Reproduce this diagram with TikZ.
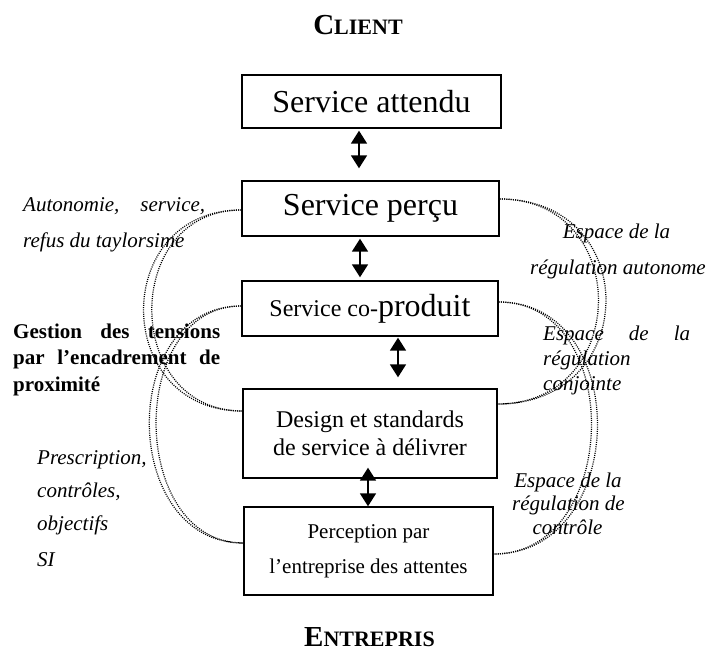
\documentclass[tikz,border=0pt]{standalone}
\usepackage{fontspec}
\setmainfont{Liberation Serif}
\usetikzlibrary{arrows.meta,calc}
\begin{document}
\begin{tikzpicture}[x=1pt,y=-1pt,
  box/.style={draw, line width=1.4pt, inner sep=0pt, align=center},
  dbl/.style={line width=1.7pt, {Triangle[width=16pt,length=13pt]}-{Triangle[width=16pt,length=13pt]}},
  dot/.style={line width=1.25pt, dash pattern=on 1pt off 1.2pt},
  itl/.style={inner sep=0pt, font=\fontsize{21}{21}\selectfont\itshape},
  bld/.style={inner sep=0pt, font=\fontsize{21}{21}\selectfont\bfseries},
  ttl/.style={inner sep=0pt, font=\bfseries},
]
\useasboundingbox (0,0) rectangle (709,652);

% titles
\node[ttl, anchor=base] (client) at (358,35) {\fontsize{29}{29}\selectfont C\fontsize{22}{22}\selectfont LIENT};
\node[ttl, anchor=base] (entr) at (369.5,646) {\fontsize{29}{29}\selectfont E\fontsize{22}{22}\selectfont NTREPRIS};

% boxes
\node[box, minimum width=259, minimum height=53, font=\fontsize{32}{32}\selectfont] (attendu) at (371.5,101.5) {Service attendu};
\node[box, minimum width=257, minimum height=55, font=\fontsize{32}{32}\selectfont] (percu) at (370.5,208.5) {Service perçu};
\node[box, minimum width=256, minimum height=55] (coprod) at (370,308.5) {\fontsize{24}{24}\selectfont Service co-\fontsize{32}{32}\selectfont produit};
\node[box, minimum width=254, minimum height=89, font=\fontsize{24}{28}\selectfont] (design) at (370,433.5) {Design et standards\\de service à délivrer};
\node[box, minimum width=249, minimum height=88, font=\fontsize{21}{35}\selectfont] (percep) at (368.5,551) {Perception par\\l’entreprise des attentes};

% arrows
\draw[dbl, shorten <=2pt, shorten >=12pt] (359,0 |- attendu.south) -- (359,0 |- percu.north);
\draw[dbl, shorten <=2pt, shorten >=3pt] (360,0 |- percu.south) -- (360,0 |- coprod.north);
\draw[dbl, shorten <=1pt, shorten >=11pt] (398,0 |- coprod.south) -- (398,0 |- design.north);
\draw[dbl, shorten <=-11pt, shorten >=0pt] (368,0 |- design.south) -- (368,0 |- percep.north);

% dotted arcs, left
\draw[dot] ($(percu.west)+(0,1.5)$) .. controls +(-131,0) and +(-131,0) .. ($(design.west)+(0,-22.5)$);
\draw[dot] ($(percu.west)+(0,1.5)$) .. controls +(-120,0) and +(-120,0) .. ($(design.west)+(0,-22.5)$);
\draw[dot] ($(coprod.west)+(0,-2.5)$) .. controls +(-124,0) and +(-124,0) .. ($(percep.west)+(0,-8)$);
\draw[dot] ($(coprod.west)+(0,-2.5)$) .. controls +(-115,0) and +(-115,0) .. ($(percep.west)+(0,-8)$);
% dotted arcs, right
\draw[dot] ($(percu.east)+(0,-9.5)$) .. controls +(143,0) and +(143,0) .. ($(design.east)+(0,-29.5)$);
\draw[dot] ($(percu.east)+(0,-9.5)$) .. controls +(133,0) and +(133,0) .. ($(design.east)+(0,-29.5)$);
\draw[dot] ($(coprod.east)+(0,-6.5)$) .. controls +(135,0) and +(135,0) .. ($(percep.east)+(0,3)$);
\draw[dot] ($(coprod.east)+(0,-6.5)$) .. controls +(127,0) and +(127,0) .. ($(percep.east)+(0,3)$);

% left labels
\node[itl, anchor=base west] (l1a) at (23,212) {\makebox[182pt][s]{Autonomie, service,}};
\node[itl, anchor=base west] (l1b) at (23,248) {refus du taylorsime};
\node[bld, anchor=base west] (l2a) at (13,338) {\makebox[207pt][s]{Gestion des tensions}};
\node[bld, anchor=base west] (l2b) at (13,364.5) {\makebox[207pt][s]{par l’encadrement de}};
\node[bld, anchor=base west] (l2c) at (13,391) {proximité};
\node[itl, anchor=base west] (l3a) at (37,464) {Prescription,};
\node[itl, anchor=base west] (l3b) at (37,497) {contrôles,};
\node[itl, anchor=base west] (l3c) at (37,530) {objectifs};
\node[itl, anchor=base west] (l3d) at (37,566) {SI};

% right labels
\node[itl, anchor=base] (r1a) at (616.5,239) {Espace de la};
\node[itl, anchor=base] (r1b) at (618,274) {régulation autonome};
\node[itl, anchor=base west] (r2a) at (543,340) {\makebox[147pt][s]{Espace de la}};
\node[itl, anchor=base west] (r2b) at (543,365) {régulation};
\node[itl, anchor=base west] (r2c) at (543,390) {conjointe};
\node[itl, anchor=base] (r3a) at (568,487) {Espace de la};
\node[itl, anchor=base] (r3b) at (568.5,510) {régulation de};
\node[itl, anchor=base] (r3c) at (567.5,534) {contrôle};
\end{tikzpicture}
\end{document}
